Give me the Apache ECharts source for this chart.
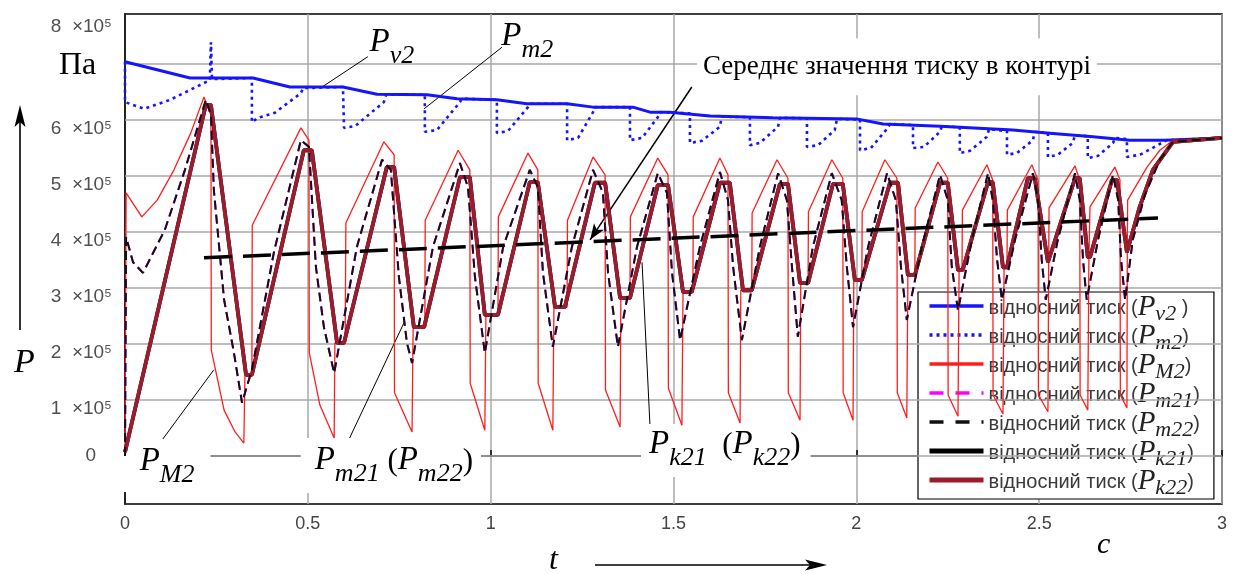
<!DOCTYPE html>
<html><head><meta charset="utf-8">
<script src="https://cdn.jsdelivr.net/npm/echarts@6/dist/echarts.min.js"></script>
<style>html,body{margin:0;padding:0;background:#fff}#c{width:1246px;height:574px}</style>
</head><body><div id="c"></div>
<script>
// ---------------- DATA (t in s, P in units of 10^5 Pa) ----------------
const Pv2 = [[0,7.04],[0.178,6.75],[0.35,6.75],[0.451,6.59],[0.596,6.59],[0.689,6.46],[0.826,6.45],[0.908,6.38],[1.017,6.36],[1.099,6.29],[1.209,6.29],[1.28,6.23],[1.389,6.23],[1.436,6.14],[1.49,6.14],[1.6,6.07],[1.772,6.04],[2.0,6.02],[2.073,5.93],[2.229,5.89],[2.428,5.82],[2.521,5.77],[2.647,5.70],[2.748,5.64],[2.844,5.64],[3,5.68]];

const Pm2 = [[0,7.04],[0,6.32],[0.052,6.2],[0.123,6.36],[0.216,6.66],[0.232,6.71],[0.235,7.39],[0.238,6.73],[0.347,6.75],[0.347,5.96],[0.364,6.04],[0.41,6.13],[0.481,6.48],[0.487,6.57],[0.596,6.59],[0.599,5.86],[0.629,5.89],[0.708,6.32],[0.714,6.45],[0.82,6.45],[0.82,5.79],[0.853,5.82],[0.916,6.32],[0.921,6.38],[1.017,6.36],[1.017,5.77],[1.047,5.80],[1.102,6.23],[1.107,6.29],[1.209,6.29],[1.209,5.64],[1.239,5.68],[1.28,6.14],[1.285,6.23],[1.381,6.23],[1.381,5.64],[1.414,5.68],[1.457,6.05],[1.463,6.14],[1.545,6.12],[1.545,5.59],[1.578,5.63],[1.627,5.88],[1.632,6.06],[1.709,6.05],[1.709,5.55],[1.736,5.59],[1.786,5.88],[1.791,6.04],[1.865,6.03],[1.865,5.52],[1.895,5.55],[1.941,5.82],[1.947,6.02],[2.01,6.01],[2.01,5.46],[2.04,5.5],[2.086,5.86],[2.092,5.93],[2.155,5.91],[2.155,5.5],[2.185,5.52],[2.229,5.79],[2.234,5.89],[2.283,5.87],[2.283,5.41],[2.311,5.45],[2.357,5.70],[2.363,5.84],[2.412,5.80],[2.412,5.38],[2.439,5.41],[2.483,5.64],[2.488,5.79],[2.524,5.77],[2.524,5.34],[2.551,5.38],[2.592,5.59],[2.598,5.73],[2.633,5.71],[2.633,5.32],[2.661,5.36],[2.702,5.59],[2.707,5.68],[2.74,5.66],[2.74,5.34],[2.776,5.38],[2.849,5.64],[3,5.68]];

const PM2 = [[0,0],[0.003,4.70],[0.046,4.27],[0.088,4.57],[0.134,5.11],[0.18,5.77],[0.216,6.41],[0.235,6.09],[0.236,1.89],[0.271,0.82],[0.301,0.43],[0.325,0.23],
[0.328,1.45],[0.347,1.45],[0.348,4.12],[0.481,5.86],[0.503,5.64],[0.504,1.84],[0.533,0.91],[0.572,0.32],
[0.574,2.02],[0.602,2.02],[0.604,4.16],[0.708,5.61],[0.736,5.38],[0.737,1.13],[0.785,0.43],
[0.788,2.30],[0.82,2.30],[0.821,4.21],[0.911,5.46],[0.943,5.11],[0.944,1.30],[0.984,0.46],
[0.987,2.52],[1.02,2.52],[1.021,4.27],[1.102,5.41],[1.129,5.11],[1.13,1.30],[1.17,0.46],
[1.173,2.66],[1.209,2.66],[1.21,4.21],[1.28,5.34],[1.313,5.02],[1.314,1.18],[1.354,0.52],
[1.356,2.82],[1.381,2.82],[1.382,4.27],[1.457,5.32],[1.485,5.02],[1.486,1.21],[1.523,0.55],
[1.526,2.93],[1.553,2.93],[1.554,4.27],[1.627,5.32],[1.649,5.02],[1.65,1.13],[1.682,0.59],
[1.684,2.96],[1.714,2.96],[1.715,4.34],[1.783,5.29],[1.813,4.96],[1.814,1.13],[1.846,0.64],
[1.848,3.09],[1.868,3.09],[1.869,4.36],[1.933,5.29],[1.963,4.96],[1.964,1.13],[1.991,0.64],
[1.993,3.14],[2.015,3.14],[2.016,4.36],[2.078,5.29],[2.111,4.96],[2.112,1.13],[2.138,0.68],
[2.141,3.23],[2.16,3.23],[2.161,4.43],[2.223,5.25],[2.25,4.96],[2.251,1.09],[2.278,0.71],
[2.281,3.32],[2.289,3.32],[2.29,4.39],[2.357,5.2],[2.373,4.93],[2.374,1.09],[2.401,0.75],
[2.404,3.37],[2.412,3.37],[2.413,4.39],[2.48,5.2],[2.497,4.93],[2.498,1.09],[2.524,0.79],
[2.526,3.46],[2.527,4.43],[2.598,5.18],[2.611,4.93],[2.612,1.09],[2.633,0.82],
[2.636,3.55],[2.639,4.45],[2.707,5.16],[2.721,4.93],[2.722,1.09],[2.74,0.86],
[2.741,3.64],[2.742,4.57],[2.795,5.16],[2.83,5.46],[2.866,5.64],[3,5.68]];

const Pk22 = [[0,0.07],[0.221,6.27],[0.235,6.27],[0.331,1.45],[0.347,1.45],[0.489,5.46],[0.511,5.46],[0.58,2.02],[0.599,2.02],[0.716,5.16],[0.736,5.16],[0.79,2.30],[0.818,2.30],[0.916,4.98],[0.943,4.98],[0.984,2.52],[1.02,2.52],[1.107,4.89],[1.129,4.89],[1.176,2.66],[1.203,2.66],[1.285,4.88],[1.313,4.88],[1.354,2.82],[1.381,2.82],[1.457,4.84],[1.485,4.84],[1.526,2.93],[1.55,2.93],[1.627,4.88],[1.654,4.88],[1.69,2.96],[1.714,2.96],[1.791,4.86],[1.813,4.86],[1.846,3.09],[1.868,3.09],[1.936,4.86],[1.963,4.86],[1.996,3.14],[2.015,3.14],[2.092,4.88],[2.114,4.88],[2.141,3.23],[2.16,3.23],[2.229,4.88],[2.25,4.88],[2.278,3.32],[2.291,3.32],[2.36,4.89],[2.373,4.89],[2.401,3.37],[2.412,3.37],[2.469,4.96],[2.488,4.96],[2.524,3.46],[2.529,3.46],[2.598,4.96],[2.611,4.96],[2.633,3.55],[2.639,3.55],[2.699,4.93],[2.713,4.93],[2.74,3.64],[2.775,4.45],[2.811,5.11],[2.866,5.61],[3,5.68]];
const Pk21 = Pk22.map(p => p.slice()); // coincides with Pk22 in the picture

const Pm22 = [[0,0],[0.003,3.91],[0.022,3.46],[0.049,3.27],[0.109,4.04],[0.164,5.11],[0.221,6.36],[0.235,6.09],[0.243,4.75],[0.271,2.79],[0.298,1.84],[0.32,0.95],
[0.347,1.54],[0.407,3.63],[0.481,5.64],[0.503,5.52],[0.522,3.38],[0.544,2.30],[0.572,1.48],
[0.634,3.73],[0.703,5.29],[0.727,5.11],[0.749,3.2],[0.771,2.02],[0.785,1.66],
[0.842,3.73],[0.916,5.23],[0.938,4.8],[0.957,3.2],[0.984,1.84],
[1.034,3.73],[1.107,5.11],[1.129,4.8],[1.143,3.27],[1.17,1.95],
[1.222,3.73],[1.28,5.11],[1.307,4.7],[1.321,3.27],[1.348,1.95],
[1.4,3.73],[1.457,5.05],[1.482,4.7],[1.496,3.27],[1.518,2.07],
[1.572,3.73],[1.627,5.07],[1.649,4.57],[1.663,3.38],[1.687,2.07],
[1.736,3.73],[1.786,5.05],[1.81,4.57],[1.824,3.38],[1.84,2.13],
[1.881,3.73],[1.933,5.05],[1.96,4.57],[1.974,3.38],[1.991,2.3],
[2.032,3.73],[2.084,5.05],[2.108,4.57],[2.122,3.38],[2.138,2.43],
[2.179,3.73],[2.229,5.02],[2.25,4.57],[2.261,3.38],[2.278,2.6],
[2.316,3.86],[2.36,5.05],[2.373,4.57],[2.385,3.5],[2.398,2.79],
[2.434,3.86],[2.483,5.05],[2.497,4.57],[2.507,3.5],[2.518,2.79],
[2.551,3.86],[2.598,5.05],[2.611,4.57],[2.62,3.5],[2.63,2.79],
[2.661,3.86],[2.702,5.02],[2.716,4.57],[2.724,3.5],[2.735,2.79],
[2.756,3.86],[2.789,4.66],[2.83,5.29],[2.866,5.61],[3,5.68]];
const Pm21 = Pm22.map(p => p.slice()); // hidden under Pm22 in the picture

const meanP = [[0.216,3.54],[2.825,4.25]];

const yTicks = [0,1,2,3,4,5,6,7];
const yLabelValues = [0,1,2,3,4,5,6];
const yTopLabel = '8';
const xMin = 0, xMax = 3, xStep = 0.5;
const yMin = -0.857, yMax = 7.893;

const legendNames = ['Pv2','Pm2','PM2','Pm21','Pm22','Pk21','Pk22'];
const legendSubs = {Pv2:'v2',Pm2:'m2',PM2:'M2',Pm21:'m21',Pm22:'m22',Pk21:'k21',Pk22:'k22'};
const legendPrefix = 'відносний тиск';
const meanText = 'Середнє значення тиску в контурі';

// ---------------- STYLE ----------------
const SERIF = '"Liberation Serif","Times New Roman",serif';
const SANS = '"Liberation Sans",Arial,sans-serif';
const GRID = '#a8a8a8';
const legendLine = {
  Pv2:{width:3.5, type:'solid'}, Pm2:{width:3.5, type:[3,4]}, PM2:{width:3.5, type:'solid'},
  Pm21:{width:3.5, type:[14,12]}, Pm22:{width:3.5, type:[14,12]}, Pk21:{width:5, type:'solid'}, Pk22:{width:5, type:'solid'}
};

const chart = echarts.init(document.getElementById('c'));

function lineSeries(name, data, color, width, type, z) {
  return {name, type:'line', data, symbol:'none', showSymbol:false, silent:true, animation:false, z,
    lineStyle:{color, width, type}, itemStyle:{color}, emphasis:{disabled:true}};
}

const annRich = {
  p:{fontFamily:SERIF, fontStyle:'italic', fontSize:33, color:'#000', verticalAlign:'top'},
  s:{fontFamily:SERIF, fontStyle:'italic', fontSize:26, color:'#000', verticalAlign:'top', padding:[17,0,0,0]},
  b:{fontFamily:SERIF, fontSize:31, color:'#000', verticalAlign:'top', padding:[2,0,0,0]},
  m:{fontFamily:SERIF, fontSize:27, color:'#000'}
};

const annotations = [
  {coord:[0.73,7.30], text:'{p|P}{s|v2}', bg:false},
  {coord:[1.10,7.40], text:'{p|P}{s|m2}', bg:false},
  {coord:[2.111,6.95], text:'{m|'+meanText+'}', bg:true, pad:[15,6,15,6]},
  {coord:[0.115,-0.17], text:'{p|P}{s|M2}', bg:true, pad:[6,16,4,16]},
  {coord:[0.727,-0.17], text:'{p|P}{s|m21}{b| (}{p|P}{s|m22}{b|)}', bg:true, pad:[6,8,6,14]},
  {coord:[1.643,0.10], text:'{p|P}{s|k21}{b|  (}{p|P}{s|k22}{b|)}', bg:true, pad:[4,10,6,8]}
];
const leaders = [
  [[0.539,6.59],[0.664,7.13]],
  [[0.818,6.20],[1.031,7.30]],
  [[0.085,0.14],[0.243,1.54]],
  [[0.599,0.11],[0.763,2.38]],
  [[1.414,3.46],[1.436,0.50]]
];
const meanArrow = [[1.55,6.59],[1.272,3.86]];

const tickText = d => d + '  ×10⁵';

const option = {
  animation:false,
  grid:{left:125, right:24, top:14, bottom:70, show:true, borderColor:'#000', borderWidth:1.5, backgroundColor:'transparent'},
  xAxis:{type:'value', min:xMin, max:xMax, interval:xStep,
    axisLine:{lineStyle:{color:'#000', width:1.5}},
    axisTick:{inside:true, length:6, lineStyle:{color:'#000', width:1.5}},
    axisLabel:{color:'#444', fontSize:18, fontFamily:SANS, margin:11},
    splitLine:{show:true, lineStyle:{color:GRID, width:1.5}}},
  yAxis:{type:'value', min:yMin, max:yMax,
    axisLine:{show:true, lineStyle:{color:'#000', width:1.5}},
    axisTick:{show:false},
    axisLabel:{show:true, customValues:yLabelValues, margin:13, fontFamily:SANS, fontSize:19, color:'#505050',
      lineHeight:17,
      // the picture prints the non-zero labels about half a line below their grid lines
      formatter: v => v === 0 ? '0   ' : '\n' + tickText(String(v))},
    splitLine:{show:false}},
  legend:{data:legendNames.map(n => ({name:n, lineStyle:legendLine[n]})),
    orient:'vertical', left:918, top:292,
    backgroundColor:'#fff', borderColor:'#000', borderWidth:1.2,
    padding:[1,14,0,9], itemWidth:54, itemHeight:14, itemGap:-3,
    selectedMode:false, itemStyle:{opacity:0},
    formatter: n => '{a|'+legendPrefix+' (}{p|P}{s|'+legendSubs[n]+'}{a|'+(n==='Pv2'?' )':')')+'}',
    textStyle:{rich:{
      a:{fontFamily:SANS, fontSize:20, lineHeight:20, color:'#3a3a3a', verticalAlign:'top', padding:[5,0,0,0]},
      p:{fontFamily:SERIF, fontStyle:'italic', fontSize:29, lineHeight:26, color:'#222', verticalAlign:'top'},
      s:{fontFamily:SERIF, fontStyle:'italic', fontSize:22, lineHeight:16, color:'#222', verticalAlign:'top', padding:[10,0,0,0]}
    }}},
  series:[
    {type:'line', name:'grid', data:[], z:1, silent:true, animation:false,
      markLine:{silent:true, animation:false, symbol:['none','none'],
        lineStyle:{color:GRID, width:1.5, type:'solid'}, label:{show:false},
        data: yTicks.map(v => ({yAxis:v}))}},
    {type:'line', name:'ann', data:[], z:3, silent:true, animation:false,
      markPoint:{silent:true, animation:false, symbol:'rect', symbolSize:1, itemStyle:{color:'rgba(0,0,0,0)'},
        label:{show:true, position:'inside', rich:annRich},
        data: annotations.map(a => ({coord:a.coord, label:{formatter:a.text,
          backgroundColor: a.bg ? '#fff' : 'transparent', padding: a.pad || 0}}))}},
    lineSeries('Pv2', Pv2, '#1414ff', 3, 'solid', 5),
    lineSeries('Pm2', Pm2, '#1414ff', 2.6, [3,4], 6),
    lineSeries('PM2', PM2, '#ff1e1e', 1.3, 'solid', 7),
    lineSeries('Pm21', Pm21, '#ff00ff', 2, [9,5], 8),
    lineSeries('Pk21', Pk21, '#000000', 3.8, 'solid', 9),
    lineSeries('Pk22', Pk22, '#9b1b2f', 3.8, 'solid', 10),
    lineSeries('Pm22', Pm22, '#111111', 2, [9,5], 11),
    lineSeries('mean', meanP, '#000000', 3.5, [28,11], 12),
    {type:'line', name:'lead', data:[], z:20, silent:true, animation:false,
      markLine:{silent:true, animation:false, symbol:['none','none'],
        lineStyle:{color:'#000', width:1, type:'solid'}, label:{show:false},
        data: leaders.map(l => [{coord:l[0]},{coord:l[1]}]).concat([[
          {coord:meanArrow[0], lineStyle:{width:1.5}},
          {coord:meanArrow[1], symbol:'arrow', symbolSize:[9,16]}]])}}
  ],
  graphic:[
    {type:'text', left:59, top:50, style:{text:'Па', font:'32px '+SERIF, fill:'#000'}},
    {type:'text', left:14, top:346, style:{text:'P', font:'italic 34px '+SERIF, fill:'#000'}},
    {type:'text', left:549, top:545, style:{text:'t', font:'italic 32px '+SERIF, fill:'#000'}},
    {type:'text', left:1097, top:530, style:{text:'с', font:'italic 30px '+SERIF, fill:'#000'}},
    {type:'text', right:1246-112, top:17, style:{text:tickText(yTopLabel), font:'19px "Liberation Sans"', fill:'#505050'}},
    {type:'line', shape:{x1:20, y1:330, x2:20, y2:112}, style:{stroke:'#000', lineWidth:1.6}},
    {type:'polygon', shape:{points:[[20,105],[14.5,127],[20,122],[25.5,127]]}, style:{fill:'#000'}},
    {type:'line', shape:{x1:595, y1:565, x2:818, y2:565}, style:{stroke:'#000', lineWidth:1.6}},
    {type:'polygon', shape:{points:[[827,565],[805,559.5],[810,565],[805,570.5]]}, style:{fill:'#000'}}
  ]
};
chart.setOption(option);
</script>
</body></html>
